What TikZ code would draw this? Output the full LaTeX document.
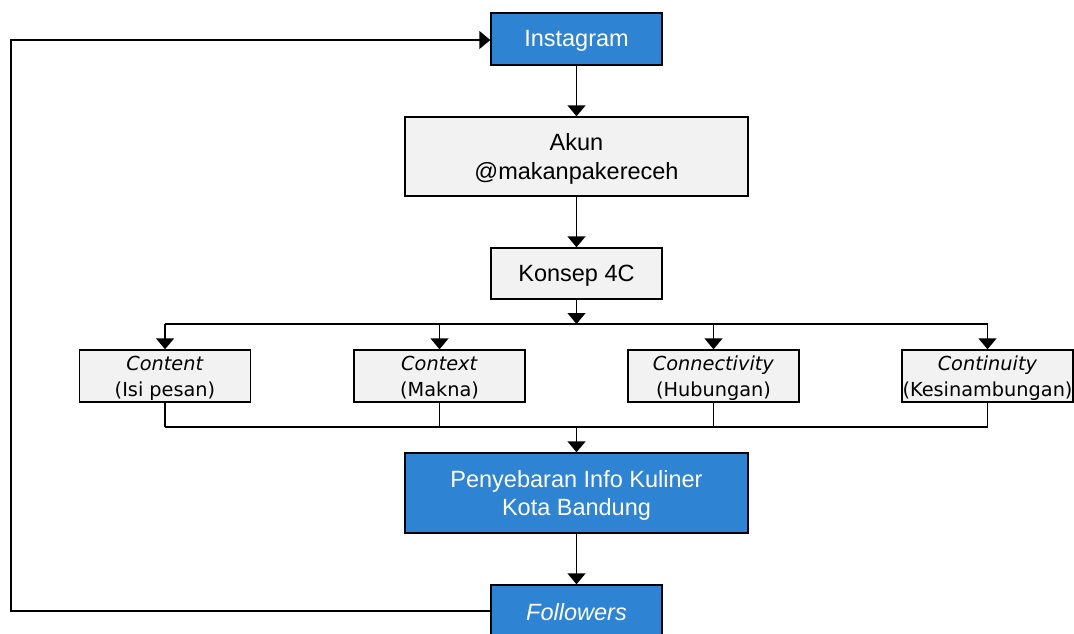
\documentclass[tikz,border=0pt]{standalone}
\usepackage{fontspec}
\setmainfont{Liberation Sans}
\newfontfamily\smallfam{DejaVu Sans}
\usetikzlibrary{arrows.meta}
\definecolor{boxblue}{RGB}{46,132,210}
\definecolor{boxgray}{RGB}{242,242,242}
\tikzset{
  base/.style={draw=black, line width=1.4pt, inner sep=0pt},
  bluebox/.style={base, fill=boxblue},
  graybox/.style={base, fill=boxgray},
  cbox/.style={base, fill=boxgray, minimum width=171pt, minimum height=52pt},
  maintxt/.style={inner sep=0pt, align=center, font=\fontsize{23.5}{28.5}\selectfont},
  whitetxt/.style={maintxt, text=white},
  blacktxt/.style={maintxt, text=black},
  smalltxt/.style={inner sep=0pt, align=center, text=black, font=\smallfam\fontsize{19.3}{26}\selectfont},
  conn/.style={draw=black, line width=1.4pt},
  arr/.style={conn, -{Triangle[width=18pt,length=11pt]}}
}
\begin{document}
\begin{tikzpicture}[x=1pt,y=-1pt]
\useasboundingbox (0,0) rectangle (1074,633);
\clip (0,0) rectangle (1074,633);
\node[bluebox, minimum width=171pt, minimum height=52pt] (insta) at (576.5,39) {};
\node[whitetxt] (instat) at ([yshift=-2pt]insta.center) {Instagram};
\node[graybox, minimum width=343pt, minimum height=79pt] (akun) at (576.5,156.5) {};
\node[blacktxt] (akunt) at ([yshift=-2.5pt]akun.center) {Akun\\@makanpakereceh};
\node[graybox, minimum width=171pt, minimum height=51pt] (konsep) at (576.5,273.5) {};
\node[blacktxt] (konsept) at ([yshift=-2pt]konsep.center) {Konsep 4C};
\node[cbox] (c1) at (165,376) {};
\node[cbox] (c2) at (439.5,376) {};
\node[cbox] (c3) at (713.5,376) {};
\node[cbox] (c4) at (987.5,376) {};
\node[smalltxt] (c1t) at ([yshift=-2pt]c1.center) {\textit{Content}\\(Isi pesan)};
\node[smalltxt] (c2t) at ([yshift=-2pt]c2.center) {\textit{Context}\\(Makna)};
\node[smalltxt] (c3t) at ([yshift=-2pt]c3.center) {\textit{Connectivity}\\(Hubungan)};
\node[smalltxt] (c4t) at ([yshift=-2pt]c4.center) {\textit{Continuity}\\(Kesinambungan)};
\node[bluebox, minimum width=343pt, minimum height=80pt] (peny) at (576.5,493) {};
\node[whitetxt] (penyt) at ([yshift=-2.5pt]peny.center) {Penyebaran Info Kuliner\\Kota Bandung};
\node[bluebox, minimum width=171pt, minimum height=52pt] (foll) at (576.5,611) {};
\node[whitetxt] (follt) at ([yshift=-1pt]foll.center) {\textit{Followers}};

\coordinate (topbus) at (576.5,324);
\coordinate (botbus) at (576.5,427);
\coordinate (fbl) at (11,611);
\coordinate (ftl) at (11,40);

\draw[arr] (insta) -- (akun);
\draw[arr] (akun) -- (konsep);
\draw[arr] (konsep) -- (topbus);
\draw[conn] (c1.north |- topbus) -- (c4.north |- topbus);
\foreach \n in {c1,c2,c3,c4} {
  \draw[arr] (\n.north |- topbus) -- (\n.north);
  \draw[conn] (\n.south) -- (\n.south |- botbus);
}
\draw[conn] (c1.south |- botbus) -- (c4.south |- botbus);
\draw[arr] (botbus) -- (peny);
\draw[arr] (peny) -- (foll);
\draw[arr] (foll.west |- fbl) -- (fbl) -- (ftl) -- (insta.west |- ftl);
\end{tikzpicture}
\end{document}
